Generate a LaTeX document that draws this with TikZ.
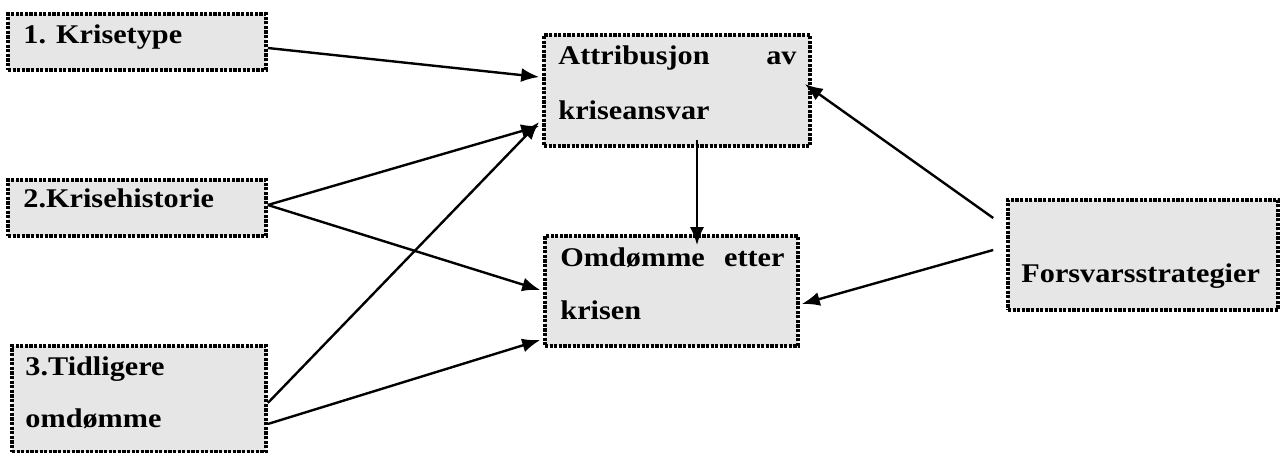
\documentclass[tikz,border=0pt]{standalone}
\usepackage{fontspec}
\setmainfont{Liberation Serif}
\usetikzlibrary{arrows.meta}
\definecolor{boxfill}{RGB}{230,230,230}
\tikzset{
  box/.style={draw=black, fill=boxfill, line width=1.8pt, dash pattern=on 1.6pt off 0.7pt, inner sep=0pt, minimum width=#1},
  txt/.style={inner sep=0pt, font=\fontsize{13.5}{16}\selectfont\bfseries, xscale=1.12, transform shape},
  conn/.style={line width=1.2pt, -{Latex[length=9pt,width=7pt]}}
}
\begin{document}
\begin{tikzpicture}[x=0.5pt,y=-0.5pt]
\useasboundingbox (0,0) rectangle (1284,453);
% boxes
\node[box=129pt, minimum height=28pt] (k1) at (137,42) {};
\node[box=129pt, minimum height=28pt] (k2) at (137,208) {};
\node[box=127pt, minimum height=53pt] (k3) at (139,399) {};
\node[box=133pt, minimum height=55.5pt] (att) at (677,90.5) {};
\node[box=126.5pt, minimum height=55pt] (omd) at (671.5,291) {};
\node[box=135pt, minimum height=55pt] (fs) at (1143,255) {};
% texts
\node[txt, anchor=base west] (t1) at (23,44) {1. Krisetype};
\node[txt, anchor=base west] (t2) at (23,208) {2.Krisehistorie};
\node[txt, anchor=base west] (t3a) at (25,376) {3.Tidligere};
\node[txt, anchor=base west] (t3b) at (25,428) {omdømme};
\node[txt, anchor=base west] (ta1) at (558,65) {Attribusjon};
\node[txt, anchor=base east] (ta2) at (797,65) {av};
\node[txt, anchor=base west] (ta3) at (558,120) {kriseansvar};
\node[txt, anchor=base west] (to1) at (560,267) {Omdømme};
\node[txt, anchor=base east] (to2) at (785,267) {etter};
\node[txt, anchor=base west] (to3) at (560,320) {krisen};
\node[txt, anchor=base west] (tf) at (1021,283) {Forsvarsstrategier};
% connectors
\draw[conn] ([shift={(0,6)}]k1.east) -- ([shift={(-3,-13.5)}]att.west);
\draw[conn] ([shift={(0,-3)}]k2.east) -- ([shift={(-3,35.5)}]att.west);
\draw[conn] ([shift={(0,-3)}]k2.east) -- ([shift={(-3,-1)}]omd.west);
\draw[conn] ([shift={(0,4)}]k3.east) -- ([shift={(-3,31.5)}]att.west);
\draw[conn] ([shift={(0,25)}]k3.east) -- ([shift={(-3,49)}]omd.west);
\draw[conn] ([shift={(20,-8)}]att.south) -- ([shift={(25.5,11)}]omd.north);
\draw[conn] ([shift={(-13,-37)}]fs.west) -- ([shift={(-7,-6.5)}]att.east);
\draw[conn] ([shift={(-13,-5)}]fs.west) -- ([shift={(2,13)}]omd.east);
\end{tikzpicture}
\end{document}
